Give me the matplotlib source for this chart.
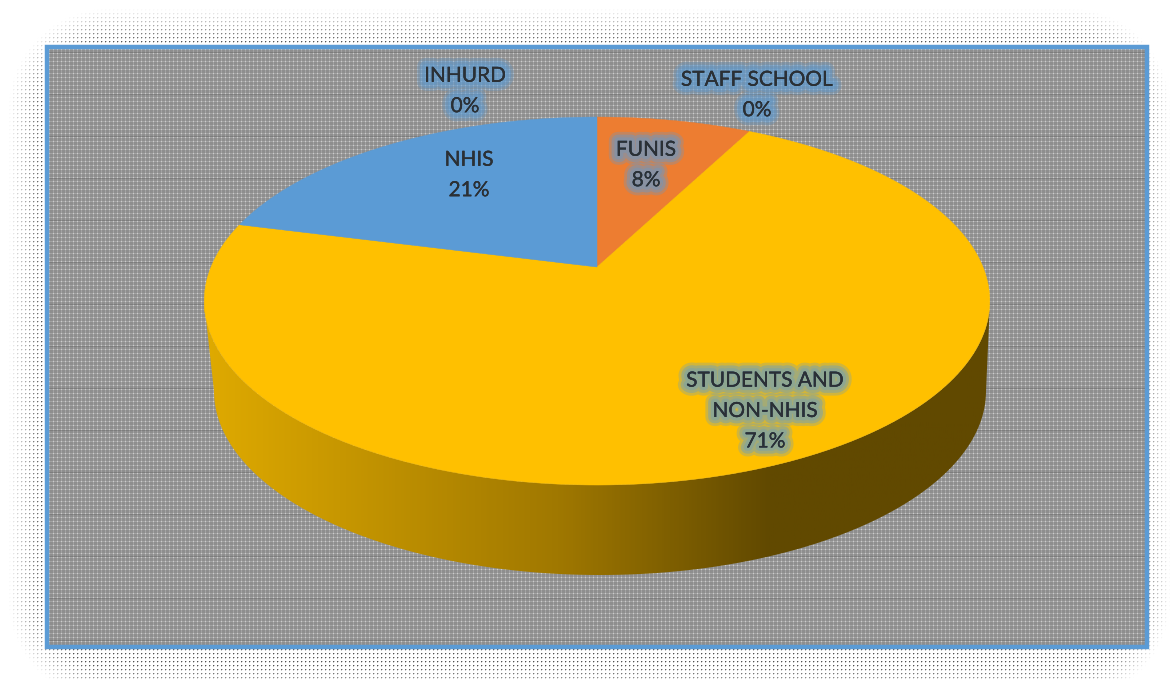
import textwrap
import numpy as np
import matplotlib
matplotlib.use('Agg')
import matplotlib.pyplot as plt
import matplotlib.patheffects as pe
from matplotlib.patches import Polygon, Rectangle
from matplotlib.colors import LinearSegmentedColormap

# data, clockwise from the top of the pie
categories = ['FUNIS', 'STAFF SCHOOL', 'STUDENTS AND NON-NHIS', 'INHURD', 'NHIS']
shares = [7.6, 0, 71.4, 0, 21.0]
colors = ['#ED7D31', '#A5A5A5', '#FFC000', '#4472C4', '#5B9BD5']
label_pos = [(646, 165), (757, 95), (765, 411), (465, 91), (469, 175)]

W, H = 1173, 680

# pie geometry in pixels, the pivot sits above the ellipse centre because of the tilt
px, py = 597, 267
R, S, k = 386, 177.7, 0.185


def project(theta):
    # theta is clockwise from up, circle is squashed with a bit of perspective
    x, y = np.sin(theta), np.cos(theta)
    w = 1 + k * y
    return px + R * x / w, py - S * y / w


# background: dotted grey plate inside a faded dotted halo
yy, xx = np.mgrid[0:H, 0:W]
bg = np.ones((H, W, 3))

# halo, fades out towards a rounded rectangle
x0, x1, y0, y1, rad = 8, 1170, 8, 700, 100
dx = np.maximum(np.maximum(x0 + rad - xx, xx - (x1 - rad)), 0)
dy = np.maximum(np.maximum(y0 + rad - yy, yy - (y1 - rad)), 0)
inside = rad - np.hypot(dx, dy)
fade = np.clip(inside / 34, 0, 1)
dots = (xx % 4 == 1) & (yy % 4 == 1)
side = ((xx % 4 == 2) & (yy % 4 == 1)) | ((xx % 4 == 1) & (yy % 4 == 2))
halo = np.ones((H, W))
halo[side] = 1 - 0.22 * fade[side]
halo[dots] = 1 - 0.68 * fade[dots]
bg[..., 0] = bg[..., 1] = bg[..., 2] = halo

# grey plate
plate = np.full((H, W), 0.56)
plate[(xx % 4 == 1) | (yy % 4 == 1)] = 0.64
plate[(xx % 4 == 1) & (yy % 4 == 1)] = 0.80
plate[yy % 42 == 10] *= 0.88
inner = (xx >= 47) & (xx < 1147) & (yy >= 47) & (yy < 647)
for c in range(3):
    bg[..., c][inner] = plate[inner]

fig = plt.figure(figsize=(W / 100, H / 100), dpi=100)
ax = fig.add_axes([0, 0, 1, 1])
ax.imshow(bg, extent=(0, W, H, 0), interpolation='nearest', zorder=0)
ax.add_patch(Rectangle((47, 47), 1100, 600, fill=False, ec='#5B9BD5', lw=3.2, zorder=1))

# side wall of the pie, gold to dark brown from left to right
ang = np.linspace(-np.pi / 2, np.pi / 2, 300)
wall_top = np.c_[597 + 393 * np.sin(ang), 301 + 184 * np.cos(ang)]
wall_bot = np.c_[600 + 386 * np.sin(ang), 391 + 184 * np.cos(ang)]
clip = Polygon(np.r_[wall_top, wall_bot[::-1]], closed=True, transform=ax.transData,
               fc='none', ec='none')
ax.add_patch(clip)
cmap = LinearSegmentedColormap.from_list('wall', [(0, '#DFAA00'), (0.45, '#A07800'),
                                                  (0.72, '#614900'), (1, '#614900')])
grad = ax.imshow(np.linspace(0, 1, 400)[None, :], cmap=cmap, extent=(204, 990, 600, 250),
                 aspect='auto', zorder=2)
grad.set_clip_path(clip)

# top face, one polygon per share
start = 0.0
total = sum(shares)
for name, val, col in zip(categories, shares, colors):
    if val == 0:
        continue
    end = start + val / total * 2 * np.pi
    th = np.linspace(start, end, 200)
    ex, ey = project(th)
    ax.add_patch(Polygon(np.c_[np.r_[px, ex], np.r_[py, ey]], closed=True, fc=col, ec=col,
                         lw=0.3, zorder=3))
    start = end

# labels with the blue glow
glow = [pe.withStroke(linewidth=13, foreground='#5B9BD5', alpha=0.28),
        pe.withStroke(linewidth=9, foreground='#5B9BD5', alpha=0.38),
        pe.withStroke(linewidth=5, foreground='#5B9BD5', alpha=0.3),
        pe.Normal()]
for name, val, pos in zip(categories, shares, label_pos):
    label = textwrap.fill(name, 13) + '\n%.0f%%' % val
    ax.text(pos[0], pos[1], label, family='Lato', fontsize=15, color='#2B3035', ha='center',
            va='center', linespacing=1.65, path_effects=glow, zorder=5)

ax.set_xlim(0, W)
ax.set_ylim(H, 0)
ax.axis('off')
fig.savefig('out.png', dpi=100)
